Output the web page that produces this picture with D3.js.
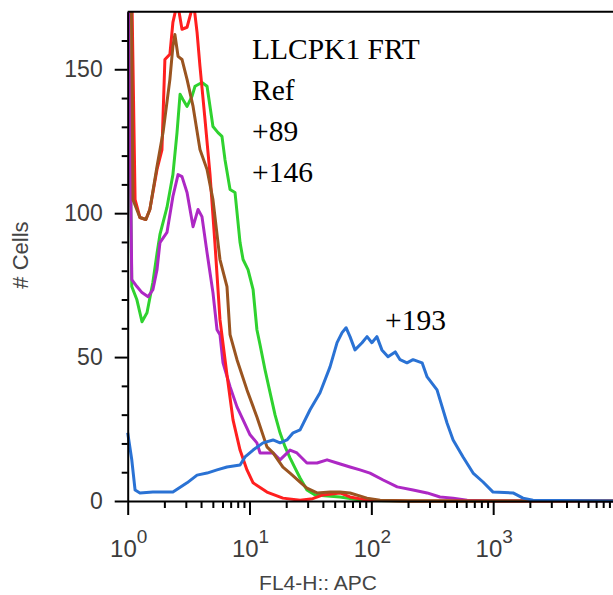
<!DOCTYPE html>
<html>
<head>
<meta charset="utf-8">
<script src="https://cdn.jsdelivr.net/npm/d3@7"></script>
<style>
  body { margin: 0; background: #fff; }
  svg { display: block; }
</style>
</head>
<body>
<svg id="chart" width="613" height="595"></svg>
<script>
// [FL4-H value, # cells]
const redSeries = [[1.0, 200], [1.06, 200], [1.15, 104.7], [1.26, 98.5], [1.41, 97.8], [1.52, 101.3], [1.74, 115.2], [1.91, 122], [2.02, 153.4], [2.22, 155.2], [2.35, 166.3], [2.49, 171], [2.59, 172], [2.79, 163.9], [3.07, 164.6], [3.37, 171], [3.5, 172], [3.71, 162.8], [3.92, 151], [4.31, 132.6], [4.74, 113.4], [5.21, 89.1], [5.72, 63], [6.53, 43.8], [7.32, 28.2], [8.36, 17.7], [9.53, 10.8], [10.7, 6.3], [13.9, 3.1], [18.8, 1.0], [26, 0.3], [33, 0.8], [40.1, 2.1], [55.3, 2.8], [66.8, 1.4], [92, 0.3], [200, 0], [10000, 0]];
const brownSeries = [[1.0, 200], [1.06, 200], [1.105, 104.7], [1.26, 98.5], [1.41, 97.8], [1.52, 101.3], [1.74, 116.2], [1.95, 128], [2.22, 146.5], [2.35, 158], [2.44, 162.1], [2.59, 154.5], [2.79, 153.4], [3.07, 146.5], [3.44, 137.1], [3.92, 122.1], [4.48, 115.2], [5.01, 104.7], [5.72, 83.9], [6.53, 74.5], [6.92, 57.8], [7.89, 49.1], [9.53, 38.6], [11.5, 29.2], [13.9, 18.8], [15.6, 16.7], [18.8, 11.8], [21.5, 9.7], [26, 6.6], [29.6, 4.5], [35.8, 2.8], [45.8, 3.1], [55.3, 3.1], [66.8, 2.8], [92, 1], [118, 0.3], [200, 0], [10000, 0]];
const greenSeries = [[1.0, 200], [1.08, 74.5], [1.19, 69.9], [1.31, 62.3], [1.44, 65.4], [1.61, 76], [1.74, 86], [1.84, 92.6], [2.1, 102], [2.35, 113.4], [2.54, 128], [2.69, 141.3], [2.84, 139.5], [3.07, 137.1], [3.37, 140.6], [3.57, 144.1], [4.07, 145.4], [4.48, 144.1], [5.01, 130.1], [5.51, 128], [5.94, 126.7], [6.29, 118.6], [6.92, 108.2], [7.6, 107.2], [8.36, 89.8], [8.85, 83.9], [9.72, 80.4], [10.7, 73.4], [11.5, 59.5], [12.2, 54.3], [13.4, 45.6], [14.7, 37.9], [16.2, 29.9], [17.8, 23.7], [19.6, 18.8], [21.5, 15], [23.6, 11.5], [26, 8], [29.6, 3.8], [34.5, 2.1], [55.3, 1.4], [80.7, 0.3], [200, 0], [10000, 0]];
const purpleSeries = [[1.0, 200], [1.08, 76.9], [1.19, 74.5], [1.31, 72.4], [1.47, 71], [1.61, 73.4], [1.74, 80.4], [1.84, 89.8], [2.1, 93.3], [2.35, 105.8], [2.59, 113.4], [2.79, 112.7], [3.07, 107.2], [3.44, 95.3], [3.78, 101.3], [4.07, 98.8], [4.48, 86.3], [5.01, 72.4], [5.41, 59.5], [5.72, 57.8], [6.06, 48], [6.92, 39.7], [7.89, 32.7], [8.85, 28.2], [10.1, 23], [11.5, 20.2], [12.2, 16.7], [15.6, 16.7], [17.8, 14.3], [21.5, 17.7], [24.5, 16.7], [29.6, 13.2], [35.8, 13.2], [43.3, 14.3], [52.3, 13.2], [66.8, 11.8], [80.7, 10.8], [97.5, 9.7], [125, 7.3], [163, 4.9], [220, 3.8], [287, 2.8], [366, 1.4], [469, 1], [611, 0.3], [1000, 0], [10000, 0]];
const blueSeries = [[1.0, 23.7], [1.08, 14.3], [1.15, 3.8], [1.26, 2.8], [1.61, 3.1], [2.35, 3.1], [3.07, 6.3], [3.71, 9], [4.48, 9.7], [5.41, 10.8], [6.53, 11.8], [8.36, 12.5], [9.19, 15.3], [10.7, 17.7], [12.9, 20.2], [15.6, 21.2], [17.8, 20.2], [20.3, 21.2], [22.8, 23.7], [26, 24.7], [31.4, 31.7], [37.9, 37.6], [45.8, 46.6], [52.3, 55], [57.5, 58.5], [62, 60.2], [66.8, 57.1], [73.4, 52.5], [83.9, 55], [92.2, 57.1], [101, 55], [111, 57.1], [122, 52.5], [137, 50.1], [157, 51.8], [172, 49.1], [196, 48], [220, 49.1], [261, 48], [287, 43.1], [346, 38.6], [418, 27.1], [469, 21.2], [566, 15.3], [684, 9.7], [826, 6.6], [998, 3.1], [1456, 2.8], [1758, 1], [2123, 0.3], [10000, 0]];

const yMajorTicks = [0, 50, 100, 150];
const yMinorTicks = [10, 20, 30, 40, 60, 70, 80, 90, 110, 120, 130, 140, 160];
const xMajorTicks = [1, 10, 100, 1000, 10000];
const xTickExponents = ['0', '1', '2', '3', '4'];
const annotationLines = ['LLCPK1 FRT', 'Ref', '+89', '+146'];
const peakLabel = '+193';

const sansFont = "'Liberation Sans', Arial, sans-serif";
const serifFont = "'Liberation Serif', 'Times New Roman', serif";

const svg = d3.select('#chart');

const xScale = d3.scaleLog().domain([1, 10000]).range([127.7, 615]);
const yScale = d3.scaleLinear().domain([0, 170]).range([501, 11.7]);

svg.append('defs').append('clipPath').attr('id', 'plot-clip')
  .append('rect')
  .attr('x', 126)
  .attr('y', yScale(170))
  .attr('width', 500)
  .attr('height', yScale(0) - yScale(170) + 2);

const line = d3.line()
  .x(d => xScale(d[0]))
  .y(d => yScale(d[1]))
  .curve(d3.curveLinear);

// drawing order: blue ends up on top
const seriesList = [
  { values: greenSeries, color: '#2fd22f' },
  { values: purpleSeries, color: '#ad28c4' },
  { values: redSeries, color: '#ff1f1f' },
  { values: brownSeries, color: '#9a5420' },
  { values: blueSeries, color: '#2a72d4' }
];

const plot = svg.append('g').attr('clip-path', 'url(#plot-clip)');

plot.selectAll('path.series')
  .data(seriesList)
  .enter().append('path')
  .attr('class', 'series')
  .attr('fill', 'none')
  .attr('stroke', d => d.color)
  .attr('stroke-width', 3)
  .attr('stroke-linejoin', 'round')
  .attr('d', d => line(d.values));

// y axis
const yAxis = svg.append('g')
  .attr('transform', `translate(${xScale(1)},0)`)
  .call(d3.axisLeft(yScale).tickValues(yMajorTicks).tickSize(13).tickSizeOuter(0).tickPadding(12));
yAxis.select('.domain').attr('stroke', '#000').attr('stroke-width', 2);
yAxis.selectAll('.tick line').attr('stroke', '#000').attr('stroke-width', 2);
yAxis.selectAll('.tick text')
  .attr('fill', '#3c3c3c')
  .style('font-family', sansFont)
  .style('font-size', '23px');

const yMinor = svg.append('g')
  .attr('transform', `translate(${xScale(1)},0)`)
  .call(d3.axisLeft(yScale).tickValues(yMinorTicks).tickSize(6).tickFormat(''));
yMinor.select('.domain').remove();
yMinor.selectAll('.tick line').attr('stroke', '#000').attr('stroke-width', 2);

// x axis
const xAxis = svg.append('g')
  .attr('transform', `translate(0,${yScale(0)})`)
  .call(d3.axisBottom(xScale).tickValues(xMajorTicks).tickSize(14).tickSizeOuter(0).tickFormat(''));
xAxis.select('.domain').attr('stroke', '#000').attr('stroke-width', 2);
xAxis.selectAll('.tick line').attr('stroke', '#000').attr('stroke-width', 2);

const xMinorTicks = xScale.ticks().filter(v => !xMajorTicks.includes(v));
const xMinor = svg.append('g')
  .attr('transform', `translate(0,${yScale(0)})`)
  .call(d3.axisBottom(xScale).tickValues(xMinorTicks).tickSize(7).tickFormat(''));
xMinor.select('.domain').remove();
xMinor.selectAll('.tick line').attr('stroke', '#000').attr('stroke-width', 2);

// only the decades that fit inside the window get a label
const xLabels = svg.append('g').selectAll('text')
  .data(xMajorTicks.map((v, i) => ({ v, exp: xTickExponents[i] })).filter(d => xScale(d.v) < 590))
  .enter().append('text')
  .attr('x', d => xScale(d.v) + 1)
  .attr('y', 557)
  .attr('text-anchor', 'middle')
  .attr('fill', '#3c3c3c')
  .style('font-family', sansFont);
xLabels.append('tspan').style('font-size', '24px').text('10');
xLabels.append('tspan').style('font-size', '19px').attr('dy', -14).text(d => d.exp);

// top frame line
svg.append('line')
  .attr('x1', xScale(1)).attr('x2', 613)
  .attr('y1', yScale(170)).attr('y2', yScale(170))
  .attr('stroke', '#000').attr('stroke-width', 2);

// axis titles
svg.append('text')
  .attr('transform', 'translate(28,255) rotate(-90)')
  .attr('text-anchor', 'middle')
  .attr('fill', '#444')
  .style('font-family', sansFont)
  .style('font-size', '22px')
  .text('# Cells');

svg.append('text')
  .attr('x', 318)
  .attr('y', 590)
  .attr('text-anchor', 'middle')
  .attr('fill', '#444')
  .style('font-family', sansFont)
  .style('font-size', '21px')
  .text('FL4-H:: APC');

// annotations
svg.append('g').selectAll('text')
  .data(annotationLines)
  .enter().append('text')
  .attr('x', 252)
  .attr('y', (d, i) => 59 + i * 41)
  .attr('fill', '#000')
  .style('font-family', serifFont)
  .style('font-size', '29.5px')
  .text(d => d);

svg.append('text')
  .attr('x', 385)
  .attr('y', 330)
  .attr('fill', '#000')
  .style('font-family', serifFont)
  .style('font-size', '29.5px')
  .text(peakLabel);
</script>
</body>
</html>
